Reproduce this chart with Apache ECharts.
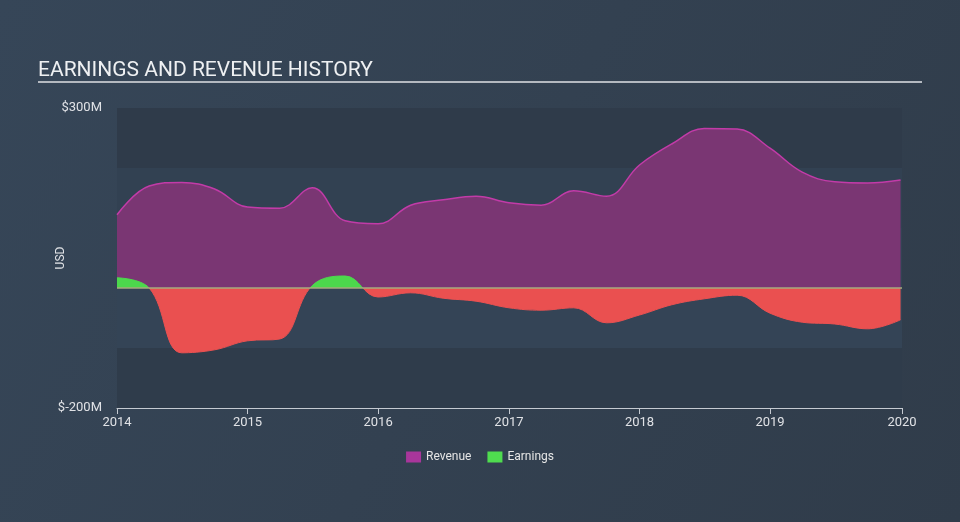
<!DOCTYPE html>
<html>
<head>
<meta charset="utf-8">
<script src="https://cdn.jsdelivr.net/npm/echarts@6/dist/echarts.min.js"></script>
<style>
html,body{margin:0;padding:0;background:#344355;}
#c{width:960px;height:522px;}
</style>
</head>
<body>
<div id="c"></div>
<script>
const dates = ['2014-01-01','2014-04-01','2014-07-01','2014-10-01','2015-01-01','2015-04-01','2015-07-01','2015-10-01','2016-01-01','2016-04-01','2016-07-01','2016-10-01','2017-01-01','2017-04-01','2017-07-01','2017-10-01','2018-01-01','2018-04-01','2018-07-01','2018-10-01','2019-01-01','2019-04-01','2019-07-01','2019-10-01','2020-01-01'];
const revenue = [122,170,176,165,135,133,167,112,107,138,147,153,142,138,162,153,205,240,266,265,233,193,177,175,180];
const earnings = [17,0,-108,-103,-88,-85,4,20,-15,-8,-17,-22,-33,-37,-33,-58,-45,-28,-18,-12,-42,-57,-60,-68,-53];
const yTickLabels = {300:'$300M', '-200':'$-200M'};
const yMin = -200, yMax = 300;

const zeroFrac = yMax / (yMax - yMin);
const signFill = new echarts.graphic.LinearGradient(0, 108, 0, 408, [
  {offset: 0, color: '#4cd84c'}, {offset: zeroFrac, color: '#4cd84c'},
  {offset: zeroFrac, color: '#ea5050'}, {offset: 1, color: '#ea5050'}
], true);

const chart = echarts.init(document.getElementById('c'));
chart.setOption({
  backgroundColor: new echarts.graphic.LinearGradient(0,0,1,1,[{offset:0,color:'#364658'},{offset:1,color:'#303c4a'}]),
  animation: false,
  title: {
    text: 'EARNINGS AND REVENUE HISTORY',
    left: 33, top: 55,
    textStyle: {color:'#eef0f2', fontSize: 21, fontWeight: 'normal', fontFamily: 'Roboto'}
  },
  graphic: [{
    type: 'line', shape: {x1: 38, y1: 82, x2: 922, y2: 82},
    style: {stroke: '#b4b9c0', lineWidth: 2}
  }],
  grid: {left: 117, right: 58, top: 108, bottom: 114},
  legend: {
    bottom: 54, left: 'center', itemGap: 16, itemWidth: 15, itemHeight: 11, icon: 'rect',
    textStyle: {color: '#e6e6e6', fontSize: 12, fontFamily: 'Roboto'},
    data: [{name:'Revenue', itemStyle:{color:'#a8369b'}}, {name:'Earnings', itemStyle:{color:'#4fdc4f'}}]
  },
  xAxis: {
    type: 'time',
    min: '2014-01-01', max: '2020-01-05',
    interval: 365.25*24*3600*1000,
    axisLine: {onZero: false, lineStyle: {color: '#c5cad1', width: 1}},
    axisTick: {show: true, length: 6, lineStyle: {color: '#c5cad1'}},
    axisLabel: {color: '#e0e2e6', fontSize: 13, fontFamily: 'Roboto', margin: 8, formatter: '{yyyy}', showMaxLabel: true},
    splitLine: {show: false}
  },
  yAxis: {
    type: 'value', min: yMin, max: yMax, interval: 100,
    name: 'USD', nameLocation: 'middle', nameGap: 50, nameMoveOverlap: false,
    nameTextStyle: {color: '#e0e2e6', fontSize: 12, fontFamily: 'Roboto'},
    axisLine: {show: false}, axisTick: {show: false},
    axisLabel: {color: '#e0e2e6', fontSize: 13, fontFamily: 'Roboto', margin: 15,
      formatter: v => yTickLabels[v] || ''},
    splitLine: {show: false},
    splitArea: {show: true, areaStyle: {color: ['#2f3c4b','#344456','#334354','#324152','#2f3b4a']}}
  },
  series: [
    {
      name: 'Revenue', type: 'line', smooth: 0.4, symbol: 'none',
      data: dates.map((d,i) => [d, revenue[i]]),
      lineStyle: {color: '#c23ba8', width: 1.5},
      itemStyle: {color: '#a8369b'},
      areaStyle: {color: '#7a3673', opacity: 1},
      z: 2
    },
    {
      name: 'Earnings', type: 'line', smooth: 0.4, symbol: 'none',
      data: dates.map((d,i) => [d, earnings[i]]),
      lineStyle: {width: 1, color: signFill},
      itemStyle: {color: '#4fdc4f'},
      areaStyle: {opacity: 1, color: signFill},
      markLine: {
        silent: true, symbol: 'none', label: {show: false},
        lineStyle: {color: '#a6ab7e', width: 1.5, type: 'solid'},
        data: [{yAxis: 0}]
      },
      z: 3
    }
  ]
});
</script>
</body>
</html>
